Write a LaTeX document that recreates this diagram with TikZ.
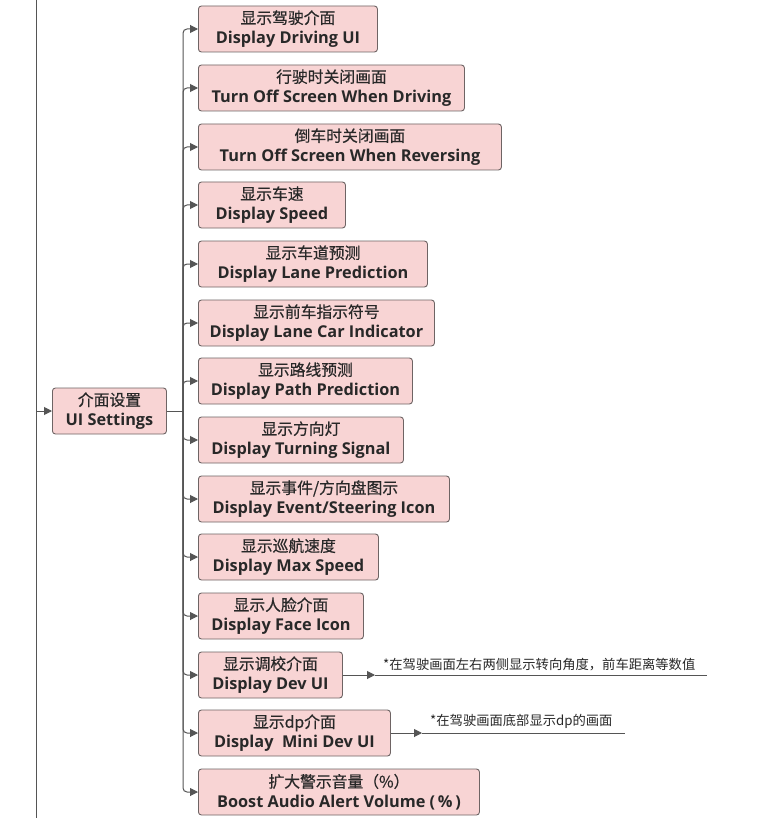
\documentclass[tikz,border=0pt]{standalone}
\usepackage{fontspec}
\setmainfont{Open Sans}
\newfontfamily\cjk[FakeBold=0.5]{Noto Sans CJK SC}
\newfontfamily\cjknote{Noto Sans CJK SC}
\usetikzlibrary{arrows.meta}
\definecolor{boxfill}{RGB}{248,212,212}
\definecolor{boxline}{RGB}{110,100,100}
\definecolor{wire}{RGB}{85,85,85}
\definecolor{ink}{RGB}{40,40,40}
\tikzset{
  x=1pt, y=-1pt,
  box/.style={draw=boxline, fill=boxfill, rounded corners=3pt, line width=0.9pt,
    minimum height=46pt, anchor=west, align=center, inner sep=0pt, text=ink,
    font=\fontsize{16.3}{20}\selectfont},
  wireline/.style={draw=wire, line width=1pt},
  arrowline/.style={wireline, -{Triangle[length=8pt,width=8pt]}, rounded corners=4pt},
  note/.style={anchor=south west, inner sep=0pt, text=ink, font=\cjknote\fontsize{13.3}{15}\selectfont},
}
\newcommand{\twoline}[2]{{\cjk\fontsize{15.8}{20}\selectfont #1}\\{\bfseries #2}}
\begin{document}
\begin{tikzpicture}
\useasboundingbox (0,0) rectangle (757,818);
\fill[white] (0,0) rectangle (757,818);
% left spine and root
\coordinate (top) at (36,0);
\coordinate (bot) at (36,818);
\coordinate (rootin) at (36,411);
\draw[wireline] (top) -- (bot);
\node[box, minimum width=114pt] (root) at (52,411) {\twoline{介面设置}{UI Settings}};
\draw[arrowline] (rootin) -- (root.west);
\coordinate (j) at (183,411);
\draw[wireline] (root.east) -- (j);
% children
\node[box, minimum width=179pt] (c1) at (198,29) {\twoline{显示驾驶介面}{Display Driving UI}};
\node[box, minimum width=266pt] (c2) at (198,88) {\twoline{行驶时关闭画面}{Turn Off Screen When Driving}};
\node[box, minimum width=303pt] (c3) at (198,147) {\twoline{倒车时关闭画面}{Turn Off Screen When Reversing}};
\node[box, minimum width=147pt] (c4) at (198,205) {\twoline{显示车速}{Display Speed}};
\node[box, minimum width=229pt] (c5) at (198,264) {\twoline{显示车道预测}{Display Lane Prediction}};
\node[box, minimum width=236pt] (c6) at (198,323) {\twoline{显示前车指示符号}{Display Lane Car Indicator}};
\node[box, minimum width=214pt] (c7) at (198,381) {\twoline{显示路线预测}{Display Path Prediction}};
\node[box, minimum width=205pt] (c8) at (198,440) {\twoline{显示方向灯}{Display Turning Signal}};
\node[box, minimum width=251pt] (c9) at (198,499) {\twoline{显示事件/方向盘图示}{Display Event/Steering Icon}};
\node[box, minimum width=180pt] (c10) at (198,557) {\twoline{显示巡航速度}{Display Max Speed}};
\node[box, minimum width=165pt] (c11) at (198,616) {\twoline{显示人脸介面}{Display Face Icon}};
\node[box, minimum width=144pt] (c12) at (198,675) {\twoline{显示调校介面}{Display Dev UI}};
\node[box, minimum width=192pt] (c13) at (198,733) {\twoline{显示dp介面}{Display\ \ Mini Dev UI}};
\node[box, minimum width=281pt] (c14) at (198,792) {\twoline{扩大警示音量（\%）}{Boost Audio Alert Volume (\,\%\,)}};
\foreach \c in {c1,c2,c3,c4,c5,c6,c7,c8,c9,c10,c11,c12,c13,c14}
  \draw[arrowline] (j) |- (\c.west);
% notes
\coordinate (n1a) at (375,675);
\coordinate (n1b) at (707,675);
\draw[arrowline] (c12.east) -- (n1a);
\draw[wireline] (n1a) -- (n1b);
\node[note] (note1) at (383,671) {*在驾驶画面左右两侧显示转向角度，前车距离等数值};
\coordinate (n2a) at (422,733);
\coordinate (n2b) at (625,733);
\draw[arrowline] (c13.east) -- (n2a);
\draw[wireline] (n2a) -- (n2b);
\node[note] (note2) at (430,729) {*在驾驶画面底部显示dp的画面};
\end{tikzpicture}
\end{document}
